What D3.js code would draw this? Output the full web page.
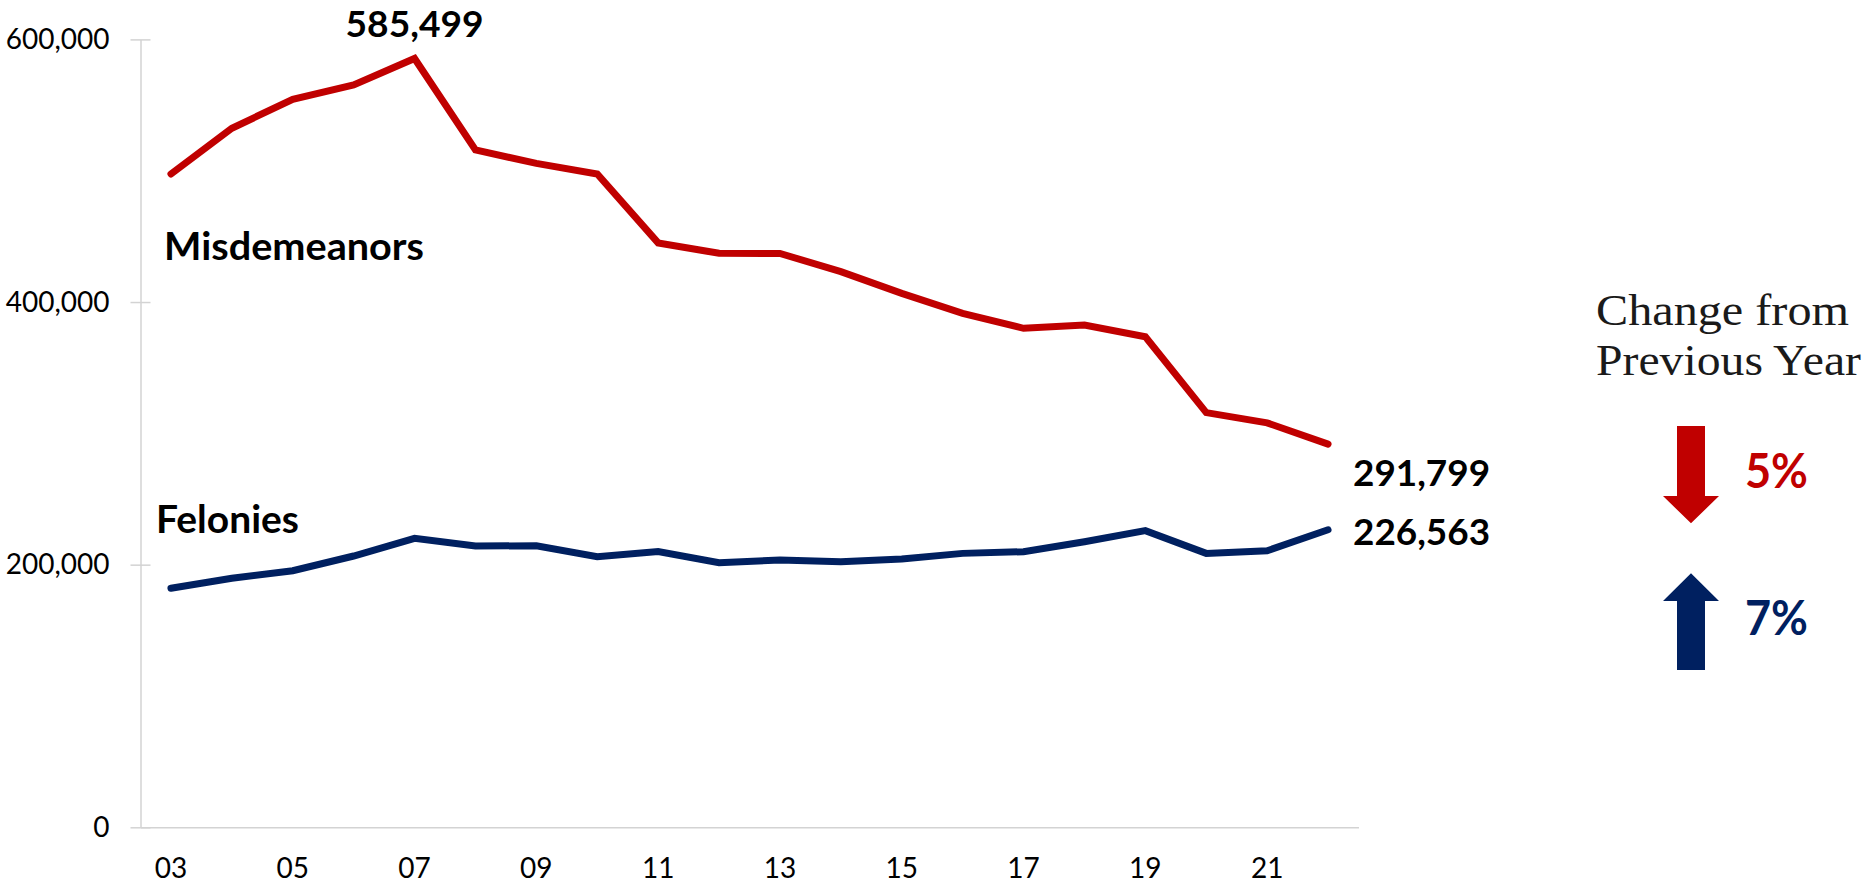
<!DOCTYPE html>
<html>
<head>
<meta charset="utf-8">
<script src="https://cdn.jsdelivr.net/npm/d3@7"></script>
<style>
    html, body { margin: 0; padding: 0; background: #fff; }
    svg { display: block; }
</style>
</head>
<body>
<div id="chart"></div>
<script>
// data
const years = [2003, 2004, 2005, 2006, 2007, 2008, 2009, 2010, 2011, 2012,
               2013, 2014, 2015, 2016, 2017, 2018, 2019, 2020, 2021, 2022];
const misdemeanors = [497500, 532300, 554400, 565300, 585499, 515800, 505600, 497500, 445000, 437100,
                      437000, 423100, 406600, 391400, 380000, 382500, 373600, 315800, 308000, 291799];
const felonies = [182000, 189600, 195400, 206600, 220100, 214200, 214400, 206100, 210000, 201500,
                  203500, 202300, 204300, 208600, 209900, 217500, 225900, 208600, 210600, 226563];
const yTickValues = [0, 200000, 400000, 600000];
const xTickYears = [2003, 2005, 2007, 2009, 2011, 2013, 2015, 2017, 2019, 2021];
const seriesNames = ["Misdemeanors", "Felonies"];
const changeTitle = ["Change from", "Previous Year"];
const changeValues = ["5%", "7%"];

const width = 1870;
const height = 888;
const RED = "#C00000";
const NAVY = "#002060";
const GRID = "#d3d3d3";
const SANS = "Lato, 'Open Sans', sans-serif";

const svg = d3
    .select("#chart")
    .append("svg")
    .attr("width", width)
    .attr("height", height);

// scales
const x = d3.scaleBand().domain(years).range([140.5, 1358.5]);
const cx = (yr) => x(yr) + x.bandwidth() / 2;
const y = d3.scaleLinear().domain([0, 600000]).range([827.3, 39.4]);

// y axis with crossing ticks
const yAxis = svg
    .append("g")
    .attr("transform", `translate(${x.range()[0]},0)`)
    .call(
        d3.axisLeft(y)
            .tickValues(yTickValues)
            .tickFormat(d3.format(","))
            .tickSize(10)
            .tickSizeOuter(0)
            .tickPadding(21)
    );
yAxis.select(".domain").attr("stroke", GRID).attr("stroke-width", 1.5);
yAxis.selectAll(".tick line").attr("x1", 10).attr("stroke", GRID).attr("stroke-width", 1.5);
yAxis.selectAll(".tick text")
    .attr("fill", "#000")
    .style("font-family", SANS)
    .style("font-size", "28px");

// x axis
const xAxis = svg
    .append("g")
    .attr("transform", `translate(0,${y(0)})`)
    .call(
        d3.axisBottom(x)
            .tickValues(xTickYears)
            .tickFormat((d) => String(d).slice(2))
            .tickSize(0)
            .tickSizeOuter(0)
            .tickPadding(31)
    );
xAxis.select(".domain").attr("stroke", GRID).attr("stroke-width", 1.5);
xAxis.selectAll(".tick text")
    .attr("fill", "#000")
    .style("font-family", SANS)
    .style("font-size", "28px");

// lines
const line = d3
    .line()
    .x((d, i) => cx(years[i]))
    .y((d) => y(d));

[[misdemeanors, RED], [felonies, NAVY]].forEach(([vals, col]) => {
    svg.append("path")
        .datum(vals)
        .attr("d", line)
        .attr("fill", "none")
        .attr("stroke", col)
        .attr("stroke-width", 7)
        .attr("stroke-linecap", "round")
        .attr("stroke-linejoin", "miter");
});

// bold labels
function boldLabel(txt, px, py, size, len, anchor, col) {
    svg.append("text")
        .attr("x", px)
        .attr("y", py)
        .attr("text-anchor", anchor || "start")
        .attr("fill", col || "#000")
        .attr("textLength", len)
        .attr("lengthAdjust", "spacingAndGlyphs")
        .style("font-family", SANS)
        .style("font-weight", 700)
        .style("font-size", size + "px")
        .text(txt);
}

const fmt = d3.format(",");
const peakIdx = d3.maxIndex(misdemeanors);
const last = years.length - 1;
// peak label sits right against the top edge
boldLabel(fmt(misdemeanors[peakIdx]), cx(years[peakIdx]), y(misdemeanors[peakIdx]) - 21, 37, 138, "middle");
boldLabel(seriesNames[0], 164, 260, 37.5, 260);
boldLabel(seriesNames[1], 156, 533, 37.5, 143);
boldLabel(fmt(misdemeanors[last]), cx(years[last]) + 25, y(misdemeanors[last]) + 42, 37, 137);
boldLabel(fmt(felonies[last]), cx(years[last]) + 25, y(felonies[last]) + 15, 37, 137);

// change panel title
changeTitle.forEach((t, i) => {
    svg.append("text")
        .attr("x", 1596)
        .attr("y", 325 + i * 50)
        .attr("fill", "#1a1a1a")
        .attr("textLength", i === 0 ? 253 : 265)
        .attr("lengthAdjust", "spacingAndGlyphs")
        .style("font-family", "'Liberation Serif', 'DejaVu Serif', serif")
        .style("font-size", "44px")
        .text(t);
});

// arrows
const ax = 1691;
svg.append("path")
    .attr("d", `M${ax - 14},426H${ax + 14}V496H${ax + 28}L${ax},523.3L${ax - 28},496H${ax - 14}Z`)
    .attr("fill", RED);
svg.append("path")
    .attr("d", `M${ax - 14},670H${ax + 14}V601H${ax + 28}L${ax},573.3L${ax - 28},601H${ax - 14}Z`)
    .attr("fill", NAVY);

boldLabel(changeValues[0], 1745, 488, 47, 63, "start", RED);
boldLabel(changeValues[1], 1745, 635, 47, 63, "start", NAVY);
</script>
</body>
</html>
